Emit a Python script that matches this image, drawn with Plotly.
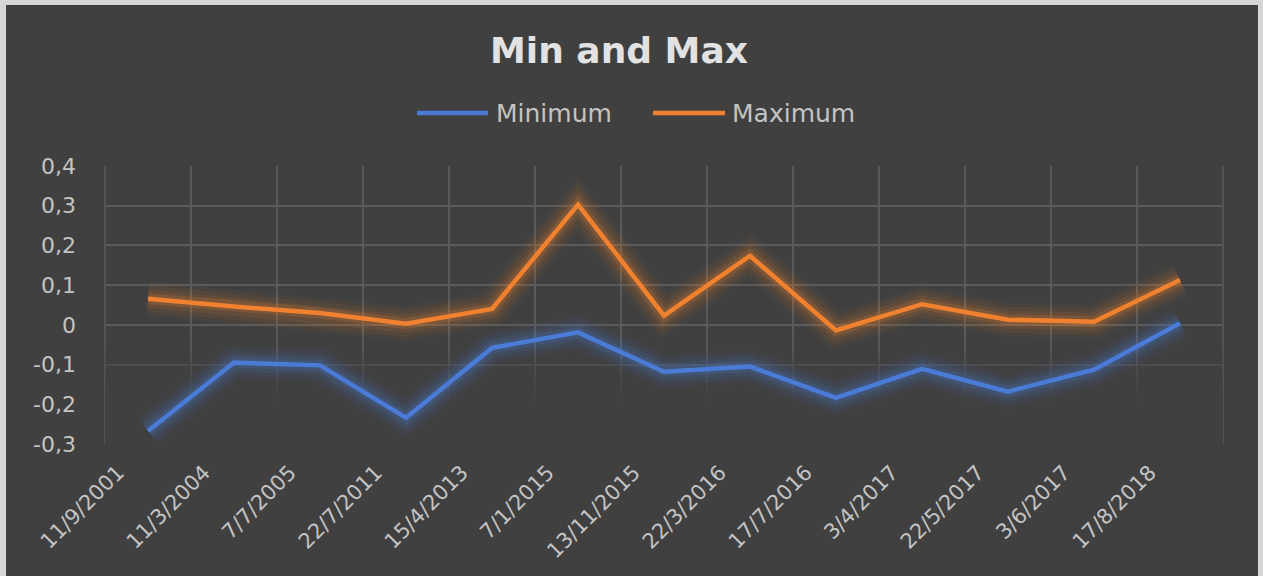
import plotly.graph_objects as go

# Observation dates (day/month/year) and the extreme values recorded on each
dates = ["11/9/2001", "11/3/2004", "7/7/2005", "22/7/2011", "15/4/2013", "7/1/2015",
         "13/11/2015", "22/3/2016", "17/7/2016", "3/4/2017", "22/5/2017", "3/6/2017",
         "17/8/2018"]
minimum = [-0.267, -0.095, -0.102, -0.234, -0.058, -0.019, -0.118, -0.105, -0.184,
           -0.111, -0.168, -0.113, 0.004]
maximum = [0.066, 0.046, 0.030, 0.003, 0.040, 0.303, 0.023, 0.174, -0.014, 0.052,
           0.013, 0.008, 0.113]
y_ticks = [-0.3, -0.2, -0.1, 0.0, 0.1, 0.2, 0.3, 0.4]
y_tick_text = ["-0,3", "-0,2", "-0,1", "0", "0,1", "0,2", "0,3", "0,4"]

BLUE = "#4a7bd6"
ORANGE = "#f0822f"
BG = "#404040"
FRAME = "#d6d6d6"
GRID = "#5a5a5a"
TEXT = "#c4c4c4"
FONT = "DejaVu Sans"

W, H = 1263, 576
ML, MR, MT, MB = 105, 40, 166, 132
PW, PH = W - ML - MR, H - MT - MB


def px_x(px):
    return (px - ML) / PW


def px_y(py):
    return (H - MB - py) / PH


fig = go.Figure()

# veil over the lower part of the grid so the gridlines fade out downwards;
# it sits on the base subplot, the series are drawn on the overlaying one
fig.add_trace(go.Scatter(
    x=[0, 1, 1, 0, 0], y=[-0.3, -0.3, -0.035, -0.035, -0.3], xaxis="x", yaxis="y",
    mode="lines", line=dict(width=0), fill="toself", hoverinfo="skip", showlegend=False,
    fillgradient=dict(type="vertical", colorscale=[
        [0.0, "rgba(64,64,64,1)"], [0.38, "rgba(64,64,64,1)"],
        [0.7, "rgba(64,64,64,0.6)"], [1.0, "rgba(64,64,64,0)"]]),
))


def add_glow(values, rgb):
    # soft halo: a few wide, faint copies of the line underneath it
    for width, alpha in [(34, 0.05), (26, 0.07), (18, 0.11), (11, 0.18)]:
        fig.add_trace(go.Scatter(
            x=dates, y=values, xaxis="x2", yaxis="y", mode="lines",
            hoverinfo="skip", showlegend=False,
            line=dict(color=f"rgba({rgb},{alpha})", width=width),
        ))


add_glow(minimum, "74,123,214")
add_glow(maximum, "240,130,47")

fig.add_trace(go.Scatter(x=dates, y=minimum, xaxis="x2", yaxis="y", name="Minimum",
                         mode="lines", line=dict(color=BLUE, width=4.5), showlegend=False))
fig.add_trace(go.Scatter(x=dates, y=maximum, xaxis="x2", yaxis="y", name="Maximum",
                         mode="lines", line=dict(color=ORANGE, width=4.5), showlegend=False))

shapes = []
# outer edges of the plot grid
for xe in (0, 1):
    shapes.append(dict(type="line", xref="paper", yref="paper", x0=xe, x1=xe, y0=0, y1=1,
                       line=dict(color=GRID, width=1.5), layer="below"))

# light frame on the left, top and right edges
for x0, x1, y0, y1 in [(0, 6, 0, H), (0, W, 0, 5), (1258, W, 0, H)]:
    shapes.append(dict(type="rect", xref="paper", yref="paper",
                       x0=px_x(x0), x1=px_x(x1), y0=px_y(y1), y1=px_y(y0),
                       fillcolor=FRAME, line=dict(width=0), layer="above"))

# legend swatches and labels
annotations = []
for (sx0, sx1, tx, color, label) in [(417, 488, 494, BLUE, "Minimum"),
                                     (653, 725, 730, ORANGE, "Maximum")]:
    shapes.append(dict(type="line", xref="paper", yref="paper",
                       x0=px_x(sx0), x1=px_x(sx1), y0=px_y(113), y1=px_y(113),
                       line=dict(color=color, width=4.5)))
    annotations.append(dict(text=label, xref="paper", yref="paper",
                            x=px_x(tx), y=px_y(113), xanchor="left", yanchor="middle",
                            showarrow=False, font=dict(family=FONT, size=25, color=TEXT)))

fig.update_layout(
    width=W, height=H,
    margin=dict(l=ML, r=MR, t=MT, b=MB, autoexpand=False),
    paper_bgcolor=BG, plot_bgcolor=BG,
    title=dict(text="<b>Min and Max</b>", x=619 / W, xref="container", xanchor="center",
               y=1 - 50 / H, yref="container", yanchor="middle",
               font=dict(family=FONT, size=36, color="#e2e2e2")),
    shapes=shapes, annotations=annotations,
    showlegend=False,
    xaxis=dict(range=[0, 1], visible=False, fixedrange=True, automargin=False),
    xaxis2=dict(type="category", overlaying="x", side="bottom",
                range=[-0.5, len(dates) - 0.5], automargin=False,
                tickson="boundaries", showgrid=True, gridcolor=GRID, gridwidth=1.5,
                zeroline=False, showline=False, ticks="",
                tickangle=-45, tickfont=dict(family=FONT, size=21, color=TEXT),
                ticklabelstandoff=11, ticklabelshift=-30),
    yaxis=dict(range=[-0.3, 0.4], tickvals=y_ticks, ticktext=y_tick_text, automargin=False,
               showgrid=True, gridcolor=GRID, gridwidth=1.5,
               zeroline=False, showline=False, ticks="",
               tickfont=dict(family=FONT, size=22, color=TEXT),
               ticklabelstandoff=28),
)

fig.write_html("out.html")
